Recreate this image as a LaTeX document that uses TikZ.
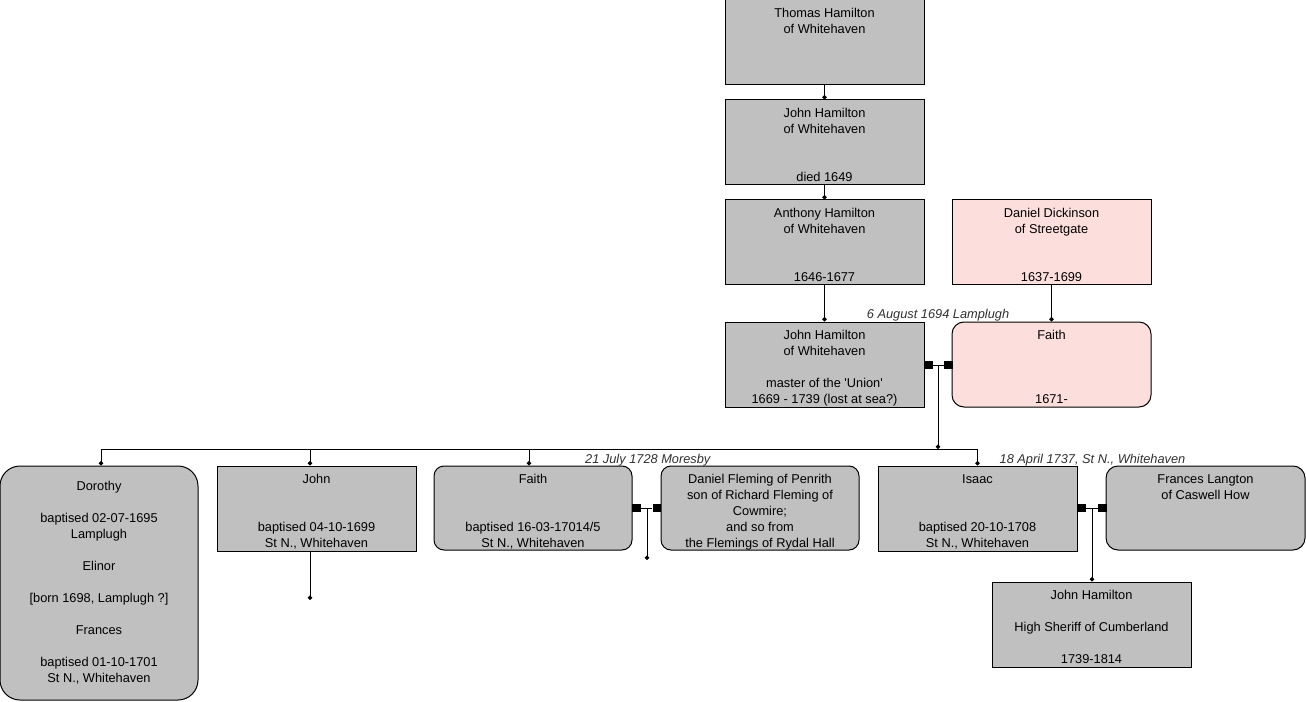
\documentclass[tikz,border=0pt]{standalone}
\usepackage{fontspec}
\setmainfont{Liberation Sans}[Ligatures=TeXOff]
\usetikzlibrary{arrows.meta}
\definecolor{boxgrey}{HTML}{C0C0C0}
\definecolor{boxpink}{HTML}{FCDFDD}
\definecolor{labelgrey}{HTML}{303030}
\newcommand{\pbx}[4][4.75pt]{\parbox[c][#3][t]{#2}{\centering\vspace*{#1}\strut #4}}
\begin{document}
\begin{tikzpicture}[x=0.75pt,y=-0.75pt,
  person/.style={draw=black, line width=0.75pt, fill=boxgrey, inner sep=0pt, font=\fontsize{9.6}{12}\selectfont},
  rperson/.style={person, rounded corners=9pt},
  pinkbox/.style={fill=boxpink},
  sq/.style={fill=black, draw=none, minimum size=6.5pt, inner sep=0pt},
  mlabel/.style={font=\fontsize{9.6}{12}\selectfont\itshape, text=labelgrey, inner sep=0pt, anchor=base},
  conn/.style={line width=0.75pt, -{Circle[length=3.3pt]}},
  wire/.style={line width=0.75pt}]
\useasboundingbox (0,0) rectangle (1306,702);

% generation 1-4
\node[person] (thomas) at (824.5,42.5) {\pbx{149.25pt}{63.75pt}{Thomas Hamilton\\of Whitehaven}};
\node[person] (johnA) at (824.5,142.5) {\pbx{149.25pt}{63.75pt}{John Hamilton\\of Whitehaven\\[24pt]died 1649}};
\node[person] (anthony) at (824.5,242.5) {\pbx{149.25pt}{63.75pt}{Anthony Hamilton\\of Whitehaven\\[24pt]1646-1677}};
\node[person,pinkbox] (danield) at (1051.5,242.5) {\pbx{149.25pt}{63.75pt}{Daniel Dickinson\\of Streetgate\\[24pt]1637-1699}};
\node[person] (johnH) at (824.5,364.5) {\pbx{149.25pt}{63.75pt}{John Hamilton\\of Whitehaven\\[12pt]master of the 'Union'\\1669 - 1739 (lost at sea?)}};
\node[rperson,pinkbox] (faithP) at (1051.5,364.5) {\pbx{149.25pt}{63.75pt}{Faith\\[36pt]1671-}};

% children
\node[person, rounded corners=15pt] (dorothy) at (99,583) {\pbx[9.9pt]{148.5pt}{175.5pt}{Dorothy\\[12pt]baptised 02-07-1695\\Lamplugh\\[12pt]Elinor\\[12pt]{[born 1698, Lamplugh ?]}\\[12pt]Frances\\[12pt]baptised 01-10-1701\\St N., Whitehaven}};
\node[person] (johnC) at (316.5,508.5) {\pbx{149.25pt}{63.75pt}{John\\[24pt]baptised 04-10-1699\\St N., Whitehaven}};
\node[person, rounded corners=7.5pt] (faithC) at (533,508) {\pbx{148.5pt}{63pt}{Faith\\[24pt]baptised 16-03-17014/5\\St N., Whitehaven}};
\node[person, rounded corners=7.5pt] (danielF) at (760,508) {\pbx{148.5pt}{63pt}{Daniel Fleming of Penrith\\son of Richard Fleming of\\Cowmire;\\and so from\\the Flemings of Rydal Hall}};
\node[person] (isaac) at (977.5,508.5) {\pbx{149.25pt}{63.75pt}{Isaac\\[24pt]baptised 20-10-1708\\St N., Whitehaven}};
\node[rperson] (frances) at (1205.5,508) {\pbx{149.25pt}{63pt}{Frances Langton\\of Caswell How}};
\node[person] (sheriff) at (1091.5,624.5) {\pbx{149.25pt}{63.75pt}{John Hamilton\\[12pt]High Sheriff of Cumberland\\[12pt]1739-1814}};

% descent lines
\draw[conn] (thomas.south) -- (johnA.north);
\draw[conn] (johnA.south) -- (anthony.north);
\draw[conn] (anthony.south) -- (johnH.north);
\draw[conn] (danield.south) -- (faithP.north);

% marriage 1
\node[sq] (s1a) at (928.5,365) {};
\node[sq] (s1b) at (948.5,365) {};
\draw[wire] (s1a) -- (s1b);
\coordinate (m1) at (938,365);
\coordinate (bus) at (938,449);
\draw[conn] (m1) -- (bus);
\draw[conn] (bus) -| ([xshift=1.5pt]dorothy.north);
\draw[conn] (bus) -| ([xshift=-4.875pt]johnC.north);
\draw[conn] (bus) -| ([xshift=-3pt]faithC.north);
\draw[conn] (bus) -| (isaac.north);
\node[mlabel] (l1) at (938,318) {6 August 1694 Lamplugh};

% John child line
\coordinate (e1) at (310,600);
\draw[conn] ([xshift=-4.875pt]johnC.south) -- (e1);

% marriage 2
\node[sq] (s2a) at (636.5,508) {};
\node[sq] (s2b) at (657,508) {};
\draw[wire] (s2a) -- (s2b);
\coordinate (m2) at (647,508);
\coordinate (e2) at (647,560);
\draw[conn] (m2) -- (e2);
\node[mlabel] (l2) at (647.8,463) {21 July 1728 Moresby};

% marriage 3
\node[sq] (s3a) at (1081.5,508) {};
\node[sq] (s3b) at (1102.5,508) {};
\draw[wire] (s3a) -- (s3b);
\coordinate (m3) at (1092,508);
\draw[conn] (m3) -- (m3 |- sheriff.north);
\node[mlabel] (l3) at (1092.5,463) {18 April 1737, St N., Whitehaven};
\end{tikzpicture}
\end{document}
